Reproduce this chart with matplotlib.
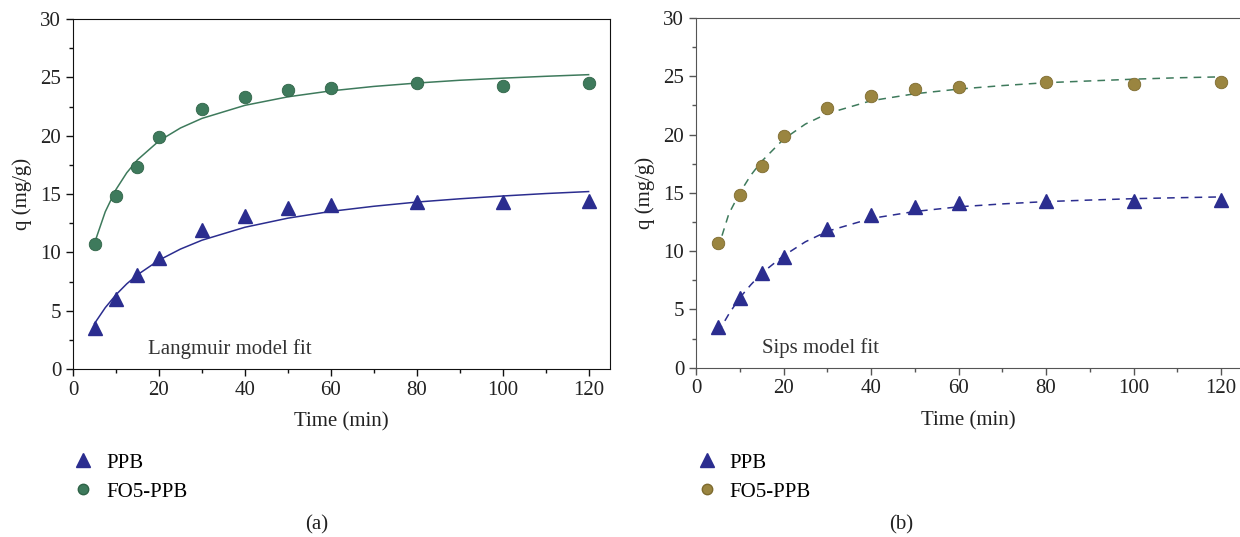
import matplotlib
matplotlib.use("Agg")
import matplotlib.pyplot as plt
from matplotlib.lines import Line2D
from matplotlib.ticker import MultipleLocator

plt.rcParams['font.family'] = ['Liberation Serif', 'DejaVu Serif']

# 实验数据
time = [5, 10, 15, 20, 30, 40, 50, 60, 80, 100, 120]
q_ppb = [3.5, 6.0, 8.1, 9.5, 11.9, 13.1, 13.8, 14.1, 14.3, 14.3, 14.4]
q_fo5 = [10.7, 14.8, 17.3, 19.9, 22.3, 23.3, 23.9, 24.1, 24.5, 24.3, 24.5]

# 拟合曲线
fit_t = [5, 7.5, 10, 12.5, 15, 20, 25, 30, 40, 50, 60, 70, 80, 90, 100, 110, 120]
lang_ppb = [3.90, 5.26, 6.37, 7.30, 8.08, 9.33, 10.28, 11.04, 12.15, 12.93, 13.51,
            13.95, 14.31, 14.59, 14.83, 15.04, 15.21]
lang_fo5 = [10.8, 13.48, 15.39, 16.82, 17.93, 19.55, 20.66, 21.48, 22.60, 23.33, 23.84,
            24.22, 24.51, 24.75, 24.93, 25.09, 25.23]
sips_ppb = [3.0, 4.6, 6.0, 7.1, 8.1, 9.6, 10.8, 11.7, 12.8, 13.4, 13.8,
            14.05, 14.25, 14.38, 14.5, 14.58, 14.65]
sips_fo5 = [10.2, 13.2, 15.0, 16.5, 17.7, 19.6, 20.9, 21.8, 22.9, 23.5, 23.9,
            24.2, 24.45, 24.6, 24.75, 24.87, 24.95]

blue = '#2b2d8f'
green = '#3e7a5c'
olive = '#9a8540'
fs = 15

fig = plt.figure(figsize=(12.4, 5.37), dpi=100)
ax1 = fig.add_axes([0.0589, 0.3128, 0.4331, 0.6518])
ax2 = fig.add_axes([0.5613, 0.3153, 0.4397, 0.6512])


def style_axis(ax, spine_color, xmax):
    ax.set_xlim(0, xmax)
    ax.set_ylim(0, 30)
    ax.xaxis.set_major_locator(MultipleLocator(20))
    ax.xaxis.set_minor_locator(MultipleLocator(10))
    ax.yaxis.set_major_locator(MultipleLocator(5))
    ax.yaxis.set_minor_locator(MultipleLocator(2.5))
    ax.tick_params(which='major', direction='out', length=5, width=1,
                   labelsize=fs, color=spine_color, labelcolor='#222222')
    ax.tick_params(which='minor', direction='out', length=3, width=1, color=spine_color)
    for s in ax.spines.values():
        s.set_color(spine_color)
    ax.set_xlabel('Time (min)', fontsize=fs, color='#222222', labelpad=9)
    ax.set_ylabel('q (mg/g)', fontsize=fs, color='#222222', labelpad=6)


# (a) Langmuir
ax1.plot(fit_t, lang_ppb, color=blue, lw=1.1)
ax1.plot(fit_t, lang_fo5, color=green, lw=1.1)
ax1.plot(time, q_ppb, '^', color=blue, ms=10, mec=blue, ls='none')
ax1.plot(time, q_fo5, 'o', color=green, ms=9, mec='#2f6347', mew=0.6, ls='none')
ax1.text(17.4, 1.3, 'Langmuir model fit', fontsize=fs, color='#333333')
style_axis(ax1, '#111111', 125)

# (b) Sips
ax2.plot(fit_t, sips_ppb, color=blue, lw=1.1, ls=(0, (5, 4)))
ax2.plot(fit_t, sips_fo5, color=green, lw=1.1, ls=(0, (5, 4)))
ax2.plot(time, q_ppb, '^', color=blue, ms=10, mec=blue, ls='none')
ax2.plot(time, q_fo5, 'o', color=olive, ms=9, mec='#7d6a2e', mew=0.6, ls='none')
ax2.text(15.1, 1.3, 'Sips model fit', fontsize=fs, color='#333333')
style_axis(ax2, '#555555', 124.6)
ax2.spines['right'].set_visible(False)

# 图例
h1 = [Line2D([], [], marker='^', color=blue, ls='none', ms=9.5),
      Line2D([], [], marker='o', color=green, mec='#2f6347', ls='none', ms=7.5)]
fig.legend(h1, ['PPB', 'FO5-PPB'], loc='upper left', bbox_to_anchor=(0.052, 0.172),
           frameon=False, fontsize=fs, handlelength=1.0, handletextpad=0.6,
           labelspacing=0.45, borderaxespad=0)
h2 = [Line2D([], [], marker='^', color=blue, ls='none', ms=9.5),
      Line2D([], [], marker='o', color=olive, mec='#7d6a2e', ls='none', ms=7.5)]
fig.legend(h2, ['PPB', 'FO5-PPB'], loc='upper left', bbox_to_anchor=(0.555, 0.172),
           frameon=False, fontsize=fs, handlelength=1.0, handletextpad=0.6,
           labelspacing=0.45, borderaxespad=0)

fig.text(0.255, 0.014, '(a)', fontsize=fs, ha='center', color='#222222')
fig.text(0.727, 0.014, '(b)', fontsize=fs, ha='center', color='#222222')

fig.savefig('out.png', dpi=100)
